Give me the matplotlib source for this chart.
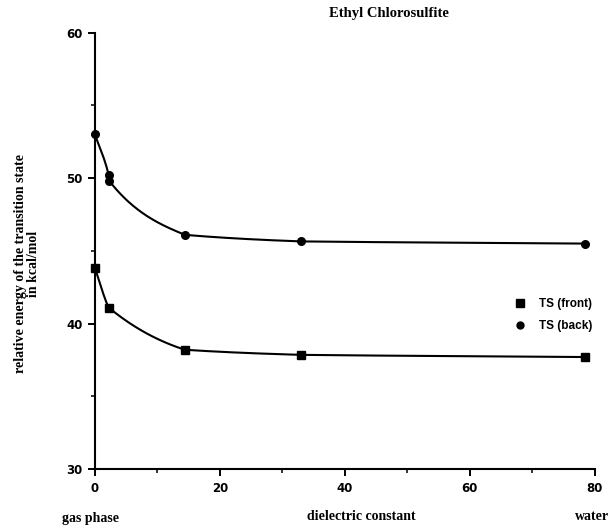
import matplotlib
matplotlib.use("Agg")
import matplotlib.pyplot as plt
import numpy as np

# dielectric constant vs relative energy (kcal/mol)
front_x = [0.0, 2.2, 14.4, 33.0, 78.4]
front_y = [43.8, 41.1, 38.2, 37.85, 37.7]
back_x = [0.0, 2.2, 2.3, 14.4, 33.0, 78.4]
back_y = [53.0, 50.2, 49.8, 46.1, 45.65, 45.5]

title = "Ethyl Chlorosulfite"
ylabel = "relative energy of the transition state\nin kcal/mol"
labels = ["TS (front)", "TS (back)"]


def smooth(xs, ys, n=400, a=0.5):
    """ Cubic curve through the points, tangents half way between the
    monotone (Fritsch-Carlson) slope and the segment chord. """
    x = np.asarray(xs, float)
    y = np.asarray(ys, float)
    h = np.diff(x)
    d = np.diff(y) / h
    m = np.zeros_like(y)
    m[0] = d[0]
    m[-1] = d[-1]
    for i in range(1, len(x) - 1):
        if d[i - 1] * d[i] <= 0:
            m[i] = 0
        else:
            w1 = 2 * h[i] + h[i - 1]
            w2 = h[i] + 2 * h[i - 1]
            m[i] = (w1 + w2) / (w1 / d[i - 1] + w2 / d[i])
    m_start = m[:-1].copy()
    m_end = m[1:].copy()
    m_start[1:] = a * m[1:-1] + (1 - a) * d[1:]
    m_end[:-1] = a * m[1:-1] + (1 - a) * d[:-1]
    xx = np.linspace(x[0], x[-1], n)
    idx = np.clip(np.searchsorted(x, xx) - 1, 0, len(x) - 2)
    t = (xx - x[idx]) / h[idx]
    h00 = 2 * t**3 - 3 * t**2 + 1
    h10 = t**3 - 2 * t**2 + t
    h01 = -2 * t**3 + 3 * t**2
    h11 = t**3 - t**2
    yy = (h00 * y[idx] + h10 * h[idx] * m_start[idx]
          + h01 * y[idx + 1] + h11 * h[idx] * m_end[idx])
    return xx, yy


fig = plt.figure(figsize=(6.1, 5.27), dpi=100)
ax = fig.add_axes([0.1557, 0.110, 0.8193, 0.828])

fx, fy = smooth(front_x, front_y)
bx, by = smooth(back_x, back_y)
ax.plot(fx, fy, color="black", lw=1.5, zorder=2)
ax.plot(bx, by, color="black", lw=1.5, zorder=2)
ax.plot(front_x, front_y, "s", color="black", ms=6, zorder=3, clip_on=False)
ax.plot(back_x, back_y, "o", color="black", ms=5.5, zorder=3, clip_on=False)

ax.set_xlim(0, 80)
ax.set_ylim(30, 60)
ax.set_xticks([0, 20, 40, 60, 80])
ax.set_xticks([10, 30, 50, 70], minor=True)
ax.set_yticks([30, 40, 50, 60])
ax.set_yticks([35, 45, 55], minor=True)
for s in ["top", "right"]:
    ax.spines[s].set_visible(False)
ax.spines["left"].set_linewidth(1.5)
ax.spines["bottom"].set_linewidth(1.5)
ax.tick_params(which="major", direction="out", length=5, width=1.4, labelsize=8.5, pad=4)
ax.tick_params(which="minor", direction="out", length=3, width=1.1)
for lab in ax.get_xticklabels() + ax.get_yticklabels():
    lab.set_fontweight("bold")
    lab.set_family("DejaVu Sans")

fig.text(0.638, 0.975, title, ha="center", va="center",
         family="Liberation Serif", fontsize=10.5, fontweight="bold")
fig.text(0.044, 0.50, ylabel, ha="center", va="center", rotation=90,
         family="Liberation Serif", fontsize=10, fontweight="bold", linespacing=0.95)
fig.text(0.102, 0.017, "gas phase", ha="left", va="center",
         family="Liberation Serif", fontsize=10, fontweight="bold")
fig.text(0.592, 0.019, "dielectric constant", ha="center", va="center",
         family="Liberation Serif", fontsize=10, fontweight="bold")
fig.text(0.943, 0.019, "water", ha="left", va="center",
         family="Liberation Serif", fontsize=10, fontweight="bold")

ax.legend(
    [plt.Line2D([], [], ls="none", marker="s", color="black", ms=5.5),
     plt.Line2D([], [], ls="none", marker="o", color="black", ms=5)],
    labels, loc="center left", bbox_to_anchor=(0.817, 0.353), frameon=False,
    handlelength=1.0, handletextpad=1.15, labelspacing=0.9, borderpad=0.4,
    prop={"family": "Liberation Sans", "size": 8.5, "weight": "bold"})

fig.savefig("out.png", dpi=100)
